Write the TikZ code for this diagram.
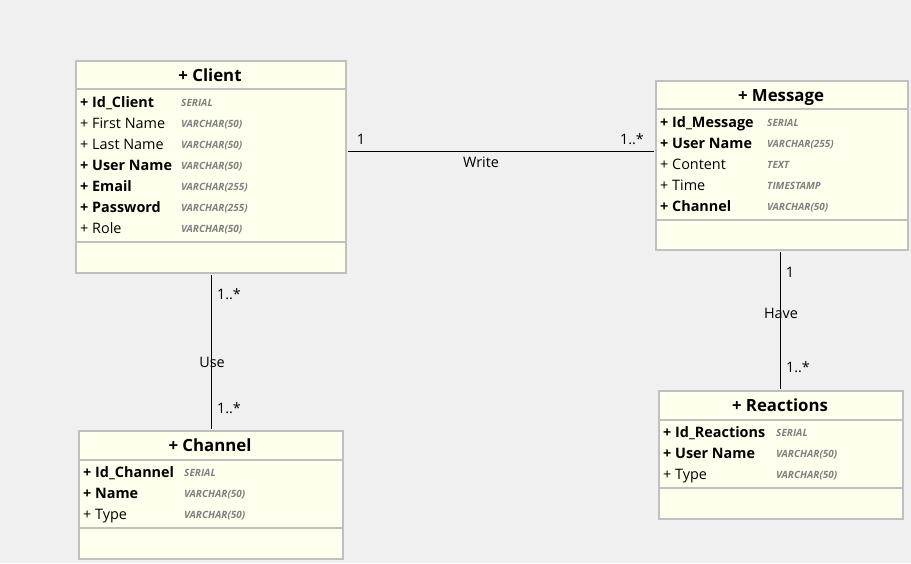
\documentclass[tikz,border=0pt]{standalone}
\usepackage{fontspec}
\setmainfont{Open Sans}
\begin{document}
\begin{tikzpicture}[x=1pt,y=-1pt]
\definecolor{bg}{HTML}{F0F0F0}
\definecolor{boxfill}{HTML}{FFFFEE}
\definecolor{boxline}{HTML}{C0C0C0}
\definecolor{typegray}{HTML}{808080}
\tikzset{
 cls/.style={draw=boxline, line width=2pt, fill=boxfill, anchor=north west, inner sep=0pt},
 divider/.style={draw=boxline, line width=2pt},
 title/.style={anchor=base, inner sep=0pt, font=\fontsize{16.8}{19}\selectfont\bfseries},
 attr/.style={anchor=base west, inner sep=0pt, font=\fontsize{14.4}{17}\selectfont},
 key/.style={anchor=base west, inner sep=0pt, font=\fontsize{14.4}{17}\selectfont\bfseries},
 dtype/.style={anchor=base west, inner sep=0pt, text=typegray, font=\fontsize{10}{12}\selectfont\bfseries\itshape},
 conn/.style={draw=black, line width=1pt},
 lbl/.style={inner sep=0pt, font=\fontsize{14.4}{17}\selectfont},
}
\fill[bg] (0,0) rectangle (911,563);
\useasboundingbox (0,0) rectangle (911,563);

% ---------- Client ----------
\node[cls, minimum width=270pt, minimum height=212pt] (client) at (75,60) {};
\draw[divider] (75,89) -- (345,89);
\draw[divider] (75,242) -- (345,242);
\node[title] (clientT) at (210,81) {+ Client};
\node[key]  (c1) at (80,107) {+ Id\_Client};      \node[dtype] (c1t) at (181,106) {SERIAL};
\node[attr] (c2) at (80,128) {+ First Name};      \node[dtype] (c2t) at (181,127) {VARCHAR(50)};
\node[attr] (c3) at (80,149) {+ Last Name};       \node[dtype] (c3t) at (181,148) {VARCHAR(50)};
\node[key]  (c4) at (80,170) {+ User Name};       \node[dtype] (c4t) at (181,169) {VARCHAR(50)};
\node[key]  (c5) at (80,191) {+ Email};           \node[dtype] (c5t) at (181,190) {VARCHAR(255)};
\node[key]  (c6) at (80,212) {+ Password};        \node[dtype] (c6t) at (181,211) {VARCHAR(255)};
\node[attr] (c7) at (80,233) {+ Role};            \node[dtype] (c7t) at (181,232) {VARCHAR(50)};

% ---------- Message ----------
\node[cls, minimum width=252pt, minimum height=169pt] (message) at (655,80) {};
\draw[divider] (655,109) -- (907,109);
\draw[divider] (655,220) -- (907,220);
\node[title] (messageT) at (781,101) {+ Message};
\node[key]  (m1) at (660,127) {+ Id\_Message};    \node[dtype] (m1t) at (767,126) {SERIAL};
\node[key]  (m2) at (660,148) {+ User Name};      \node[dtype] (m2t) at (767,147) {VARCHAR(255)};
\node[attr] (m3) at (660,169) {+ Content};        \node[dtype] (m3t) at (767,168) {TEXT};
\node[attr] (m4) at (660,190) {+ Time};           \node[dtype] (m4t) at (767,189) {TIMESTAMP};
\node[key]  (m5) at (660,211) {+ Channel};        \node[dtype] (m5t) at (767,210) {VARCHAR(50)};

% ---------- Channel ----------
\node[cls, minimum width=264pt, minimum height=128pt] (channel) at (78,430) {};
\draw[divider] (78,460) -- (342,460);
\draw[divider] (78,528) -- (342,528);
\node[title] (channelT) at (210,451) {+ Channel};
\node[key]  (h1) at (83,477) {+ Id\_Channel};     \node[dtype] (h1t) at (184,476) {SERIAL};
\node[key]  (h2) at (83,498) {+ Name};            \node[dtype] (h2t) at (184,497) {VARCHAR(50)};
\node[attr] (h3) at (83,519) {+ Type};            \node[dtype] (h3t) at (184,518) {VARCHAR(50)};

% ---------- Reactions ----------
\node[cls, minimum width=244pt, minimum height=128pt] (reactions) at (658,390) {};
\draw[divider] (658,420) -- (902,420);
\draw[divider] (658,488) -- (902,488);
\node[title] (reactionsT) at (780,411) {+ Reactions};
\node[key]  (r1) at (663,437) {+ Id\_Reactions};  \node[dtype] (r1t) at (776,436) {SERIAL};
\node[key]  (r2) at (663,458) {+ User Name};      \node[dtype] (r2t) at (776,457) {VARCHAR(50)};
\node[attr] (r3) at (663,479) {+ Type};           \node[dtype] (r3t) at (776,478) {VARCHAR(50)};

% ---------- Connectors ----------
\coordinate (wy) at (500,151);
\draw[conn] ([xshift=1pt]client.east |- wy) -- ([xshift=-1pt]message.west |- wy);
\node[lbl] (w1) at (361,139) {1};
\node[lbl] (w2) at (632,139) {1..*};
\node[lbl] (w3) at (481,162) {Write};

\draw[conn] ([yshift=-1pt]client.south) -- ([yshift=1pt]channel.north);
\node[lbl] (u1) at (229,294) {1..*};
\node[lbl] (u2) at (212,362) {Use};
\node[lbl] (u3) at (229,408) {1..*};

\coordinate (hx) at (780,300);
\draw[conn] ([yshift=-1pt]message.south -| hx) -- ([yshift=1pt]reactions.north -| hx);
\node[lbl] (v1) at (790,272) {1};
\node[lbl] (v2) at (781,313) {Have};
\node[lbl] (v3) at (798,367) {1..*};
\end{tikzpicture}
\end{document}
